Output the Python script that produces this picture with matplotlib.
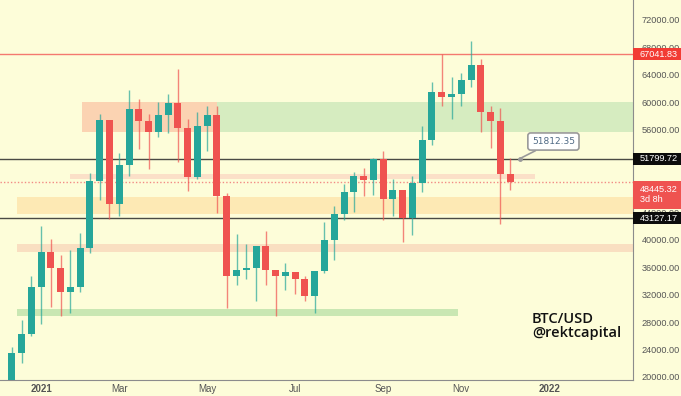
import numpy as np
import pandas as pd
import matplotlib
matplotlib.use("Agg")
import matplotlib.pyplot as plt
import matplotlib.dates as mdates
from matplotlib.patches import Rectangle
from matplotlib.transforms import blended_transform_factory

# =========================
# DATA (weekly BTC/USD candles)
# =========================
first_week = "2020-12-14"

opens = [19150, 23490, 26270, 33050, 38150, 35830, 32330, 33110, 38800, 48600,
         57490, 45210, 50930, 59050, 57240, 55740, 58220, 59970, 56220, 49080,
         56610, 58220, 46420, 34760, 35630, 35830, 39030, 35530, 34660, 35240,
         34280, 31740, 35390, 39910, 43790, 46970, 49210, 48750, 51760, 45930,
         47190, 43110, 48270, 54570, 61470, 60800, 61200, 63320, 65400, 58610,
         57240, 49500]
highs = [24300, 28350, 34760, 41940, 40100, 37820, 38550, 40980, 49720, 58360,
         57490, 52640, 61760, 60550, 58320, 60010, 61180, 64920, 57590, 58550,
         59530, 59530, 46850, 40830, 39420, 39100, 41310, 35600, 36610, 35300,
         34660, 35450, 42580, 44980, 48160, 49800, 50460, 51900, 52870, 48850,
         47300, 49330, 56510, 62920, 67060, 63650, 64290, 68990, 66330, 59530,
         59190, 51900]
lows = [19000, 22100, 25900, 27770, 30200, 28830, 29330, 32330, 38070, 45830,
        43060, 43400, 49330, 53220, 50300, 54970, 55550, 51320, 47040, 48890,
        52870, 43890, 30050, 33450, 34280, 31020, 33400, 28830, 32720, 32140,
        31020, 29330, 35200, 36990, 42920, 43980, 46320, 46560, 42920, 43500,
        39610, 40730, 46900, 53840, 59530, 57590, 59430, 62250, 55640, 53370,
        42340, 47190]
closes = [23490, 26270, 33050, 38150, 35830, 32330, 33110, 38800, 48600, 57490,
          45210, 50930, 59050, 57240, 55740, 58220, 59970, 56220, 49080, 56610,
          58220, 46420, 34760, 35630, 35830, 39030, 35530, 34660, 35240, 34280,
          31740, 35390, 39910, 43790, 46970, 49210, 48750, 51760, 45930, 47190,
          43110, 48270, 54570, 61470, 60800, 61200, 63320, 65400, 58610, 57240,
          49500, 48445]

# key levels
level_top = 67041.83
level_mid = 51799.72
level_low = 43127.17
last_price = 48445.32
last_timer = "3d 8h"
callout_price = 51812.35

# zones: (start, end, low, high, colour)
zones = [
    ("2021-02-02", "2021-05-10", 55640, 60010, "#fbd3b2"),
    ("2021-05-10", "2022-03-05", 55640, 60010, "#d6ecc0"),
    ("2021-01-25", "2021-12-24", 48800, 49600, "#fbe0c8"),
    ("2020-12-18", "2022-03-05", 43790, 46250, "#fde9b4"),
    ("2020-12-18", "2022-03-05", 38170, 39300, "#f9dfc1"),
    ("2020-12-18", "2021-10-30", 28830, 29950, "#c9e7b3"),
]

y_ticks = list(range(20000, 76000, 4000))
x_tick_dates = ["2021-01-04", "2021-03-01", "2021-05-03", "2021-07-05",
                "2021-09-06", "2021-11-01", "2022-01-03"]
x_tick_labels = ["2021", "Mar", "May", "Jul", "Sep", "Nov", "2022"]

UP = "#26a69a"
DOWN = "#ef5350"
BG = "#fdfdd9"
W, H = 681, 396

# =========================
# FIGURE
# =========================
dates = pd.date_range(first_week, periods=len(closes), freq="7D")
x = mdates.date2num(dates)

fig = plt.figure(figsize=(W / 100, H / 100), dpi=100, facecolor=BG)
ax = fig.add_axes([0, 16 / H, 633 / W, 380 / H])
ax.set_facecolor(BG)

# zones
for start, end, lo, hi, col in zones:
    x0 = mdates.date2num(pd.Timestamp(start))
    x1 = mdates.date2num(pd.Timestamp(end))
    ax.fill_between([x0, x1], lo, hi, color=col, lw=0, zorder=1)

# horizontal levels
ax.axhline(level_top, color="#f4796f", lw=1.0, zorder=2)
ax.axhline(level_mid, color="#4a4a44", lw=1.0, zorder=2)
ax.axhline(level_low, color="#4a4a44", lw=1.0, zorder=2)
ax.axhline(last_price, color="#f28b85", lw=1.0, ls=(0, (1, 1.5)), zorder=2)

# candles
o = np.array(opens)
c = np.array(closes)
colors = np.where(c >= o, UP, DOWN)
ax.vlines(x, lows, highs, colors=colors, lw=1.0, alpha=0.7, zorder=3)
ax.bar(x, np.abs(c - o), bottom=np.minimum(o, c), width=5.0,
       color=colors, zorder=4, linewidth=0)

# callout
pt = mdates.date2num(pd.Timestamp("2021-12-13"))
tx = mdates.date2num(pd.Timestamp("2022-01-06"))
ax.annotate(f"{callout_price:.2f}", xy=(pt, callout_price), xytext=(tx, 54300),
            ha="center", va="center", fontsize=6.5, color="#4f6a85",
            bbox=dict(boxstyle="round,pad=0.45,rounding_size=0.3",
                      fc="white", ec="#9a9a9a", lw=1.2),
            arrowprops=dict(arrowstyle="-", color="#9a9a9a", lw=1.2,
                            shrinkA=0, shrinkB=0), zorder=6)
ax.plot([pt], [callout_price], "o", ms=2.5, color="#9a9a9a", zorder=6)

# watermark text
ax.text(532 / 633, 1 - 312 / 380, "BTC/USD\n@rektcapital", transform=ax.transAxes,
        ha="left", va="top", fontsize=10.5, fontweight="semibold",
        family="Open Sans", color="#111111", linespacing=1.0, zorder=7)

# axes
ax.set_xlim(mdates.date2num(pd.Timestamp("2020-12-05 14:00")),
            mdates.date2num(pd.Timestamp("2022-03-04")))
ax.set_ylim(19563, 74913)

ax.yaxis.tick_right()
ax.set_yticks(y_ticks)
ax.set_yticklabels([f"{v:.2f}" for v in y_ticks], family="Liberation Sans")
ax.set_xticks(mdates.date2num(pd.to_datetime(x_tick_dates)))
ax.set_xticklabels(x_tick_labels, family="Liberation Sans")
ax.tick_params(axis="y", length=0, pad=6, labelsize=6.6, labelcolor="#555555")
ax.tick_params(axis="x", length=0, pad=3, labelsize=7, labelcolor="#555555")
for lab in ax.get_xticklabels():
    if lab.get_text() in ("2021", "2022"):
        lab.set_fontweight("bold")

for side in ["top", "left"]:
    ax.spines[side].set_visible(False)
ax.spines["right"].set_color("#8c8c8c")
ax.spines["bottom"].set_color("#8c8c8c")

# right-side price labels
tag_tr = blended_transform_factory(fig.transFigure, ax.transData)
px_price = 145.7  # price units per pixel


def price_tag(y, text, fc, h_px=12, tc="white"):
    h = h_px * px_price
    fig.add_artist(Rectangle((633 / W, y - h / 2), 48 / W, h, transform=tag_tr,
                             fc=fc, ec="none", zorder=5))
    fig.text(640 / W, y, text, transform=tag_tr, ha="left", va="center",
             fontsize=6.6, family="Liberation Sans", color=tc, zorder=6,
             linespacing=1.15)


price_tag(level_top, f"{level_top:.2f}", "#f23c34")
price_tag(level_mid, f"{level_mid:.2f}", "#0c0c0c")
price_tag(level_low, f"{level_low:.2f}", "#0c0c0c")
price_tag(last_price - 1900, f"{last_price:.2f}\n{last_timer}", "#ef5350", h_px=28)

fig.savefig("out.png", dpi=100, facecolor=BG)
